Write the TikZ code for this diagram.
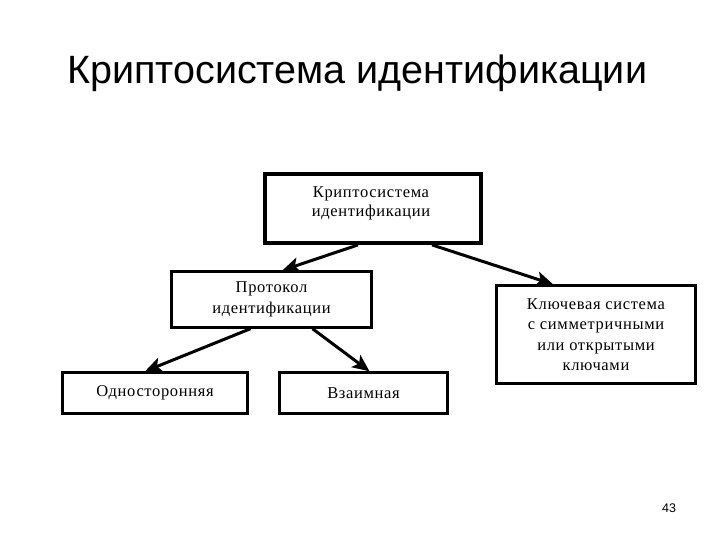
\documentclass[tikz,border=0pt]{standalone}
\usepackage{fontspec}
\setmainfont{Liberation Serif}[LetterSpace=4]
\newfontfamily\titlefont{Liberation Sans}
\usetikzlibrary{arrows.meta}
\tikzset{
  box/.style={draw, line width=2.4pt, inner sep=0pt, align=center, font=\fontsize{16.5}{20.5}\selectfont},
  txt/.style={inner sep=0pt, align=center, font=\fontsize{16.5}{19.5}\selectfont},
  arr/.style={line width=3pt, -{Stealth[length=17pt,width=15pt,inset=4pt]}},
}
\begin{document}
\begin{tikzpicture}[x=1pt,y=-1pt]
\useasboundingbox (0,0) rectangle (720,540);
\node[font=\titlefont\fontsize{39.5}{42}\selectfont, anchor=base west, inner sep=0pt] (title) at (67,84) {Криптосистема идентификации};
\node[font=\titlefont\fontsize{12.5}{14}\selectfont] (num) at (669,508) {43};
\node[box, line width=3.8pt, minimum width=216pt, minimum height=69pt] (top) at (373,208.5) {};
\node[txt] (toptext) at (371,203.5) {Криптосистема\\идентификации};
\node[box, minimum width=200pt, minimum height=56pt] (prot) at (271.5,299.5) {Протокол\\идентификации};
\node[box, minimum width=199pt, minimum height=98pt] (key) at (596,334.5) {Ключевая система\\с симметричными\\или открытыми\\ключами};
\node[box, minimum width=185pt, minimum height=41pt] (one) at (155,393) {Односторонняя};
\node[box, minimum width=168pt, minimum height=41pt] (mut) at (363.5,393) {Взаимная};
\draw[arr] ([xshift=-15pt]top.south) -- ([xshift=11pt]prot.north);
\draw[arr] ([xshift=59pt]top.south) -- ([xshift=-43pt]key.north);
\draw[arr] ([xshift=-21pt]prot.south) -- ([xshift=-10pt]one.north);
\draw[arr] ([xshift=41pt]prot.south) -- ([xshift=6pt]mut.north);
\end{tikzpicture}
\end{document}
